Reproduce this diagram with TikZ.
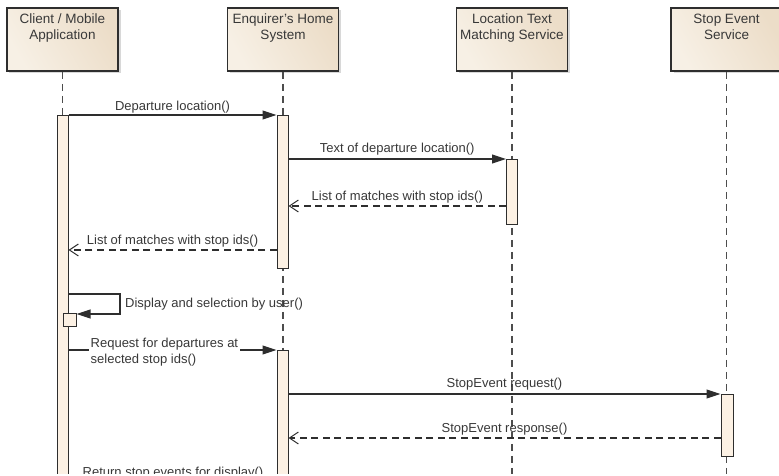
\documentclass[tikz,border=0pt]{standalone}
\usepackage{fontspec}
\setmainfont{Liberation Sans}
\usetikzlibrary{arrows.meta,shadows}
\definecolor{ink}{HTML}{2E2E2E}
\definecolor{txt}{HTML}{383838}
\definecolor{barfill}{HTML}{FCF1E4}
\definecolor{bxA}{HTML}{F7F0E5}
\definecolor{bxB}{HTML}{ECDDC8}
\begin{document}
\begin{tikzpicture}[x=1bp,y=-1bp,
  actor/.style={draw=ink, line width=1.6bp, rectangle, minimum width=111bp, minimum height=63bp, inner sep=0pt,
    left color=bxA, right color=bxB, shading angle=120,
    drop shadow={shadow xshift=2.5bp, shadow yshift=-2.5bp, fill=black!30, opacity=.5}},
  actortxt/.style={align=center, inner sep=0pt, anchor=north, text=txt, font=\fontsize{13.5bp}{16bp}\selectfont},
  life/.style={draw=ink!85, line width=1.1bp, dash pattern=on 7bp off 5bp},
  bar/.style={draw=ink, line width=1bp, fill=barfill, rectangle, minimum width=11bp, inner sep=0pt, anchor=north},
  lbl/.style={text=txt, inner sep=0pt, font=\fontsize{13bp}{16bp}\selectfont},
  call/.style={draw=ink, line width=1.1bp, -{Triangle[length=14bp,width=9bp]}},
  ret/.style={draw=ink, line width=1.1bp, dash pattern=on 7bp off 4.5bp, -{Straight Barb[length=9bp,width=12bp,line width=1bp]}}
]
\useasboundingbox (0,0) rectangle (779,476);
\begin{scope}
\clip (0,0) rectangle (779,473);
% actors
\node[actor] (c) at (62.5,39.5) {};
\node[actor] (h) at (283,39.5) {};
\node[actor] (l) at (512,39.5) {};
\node[actor] (s) at (726.5,39.5) {};
\node[actortxt] (ct) at ([yshift=-6.5bp]c.north) {Client / Mobile\\Application};
\node[actortxt] (ht) at ([yshift=-6.5bp]h.north) {Enquirer's Home\\System};
\node[actortxt] (lt) at ([yshift=-6.5bp]l.north) {Location Text\\Matching Service};
\node[actortxt] (st) at ([yshift=-6.5bp]s.north) {Stop Event\\Service};
% lifelines
\coordinate (bottom) at (0,480);
\draw[life] (c.south) -- (c.south |- bottom);
\draw[life] (h.south) -- (h.south |- bottom);
\draw[life] (l.south) -- (l.south |- bottom);
\draw[life] (s.south) -- (s.south |- bottom);
% activation bars
\node[bar, minimum height=400bp] (a1) at (62.5,115) {};
\node[bar, minimum height=153bp] (a2) at (282.5,115) {};
\node[bar, minimum height=65bp] (a3) at (512,159) {};
\node[bar, minimum height=200bp] (a4) at (282.5,350) {};
\node[bar, minimum height=62bp, minimum width=12bp] (a5) at (727,394) {};
\node[bar, minimum height=13bp, minimum width=13bp] (a6) at (69.5,313) {};
% messages
\draw[call] (a1.north east) -- (a2.north west)
  node[lbl, midway, anchor=base, yshift=4.5bp] (m1) {Departure location()};
\draw[call] (a2.east |- a3.north) -- (a3.north west)
  node[lbl, midway, anchor=base, yshift=6bp] (m2) {Text of departure location()};
\coordinate (r1) at (0,206);
\draw[ret] (a3.west |- r1) -- (a2.east |- r1)
  node[lbl, midway, anchor=base, yshift=5bp] (m3) {List of matches with stop ids()};
\coordinate (r2) at (0,250);
\draw[ret] (a2.west |- r2) -- (a1.east |- r2)
  node[lbl, midway, anchor=base, yshift=5bp] (m4) {List of matches with stop ids()};
\coordinate (sf) at (120,294);
\draw[call] (a1.east |- sf) -- (sf) |- ([yshift=-1bp]a6.north east);
\node[lbl, anchor=base west] (m5) at (125,308) {Display and selection by user()};
\draw[call] (a1.east |- a4.north) -- (a4.north west);
\node[lbl, anchor=north west, fill=white, align=left, inner sep=2bp] (m6) at (88.5,335.5) {Request for departures at\\selected stop ids()};
\draw[call] (a4.east |- a5.north) -- (a5.north west)
  node[lbl, midway, anchor=base, yshift=6bp] (m7) {StopEvent request()};
\coordinate (r3) at (0,438);
\draw[ret] (a5.west |- r3) -- (a4.east |- r3)
  node[lbl, midway, anchor=base, yshift=6bp] (m8) {StopEvent response()};
\node[lbl, anchor=base] (m9) at (173,476) {Return stop events for display()};
\end{scope}
\end{tikzpicture}
\end{document}
